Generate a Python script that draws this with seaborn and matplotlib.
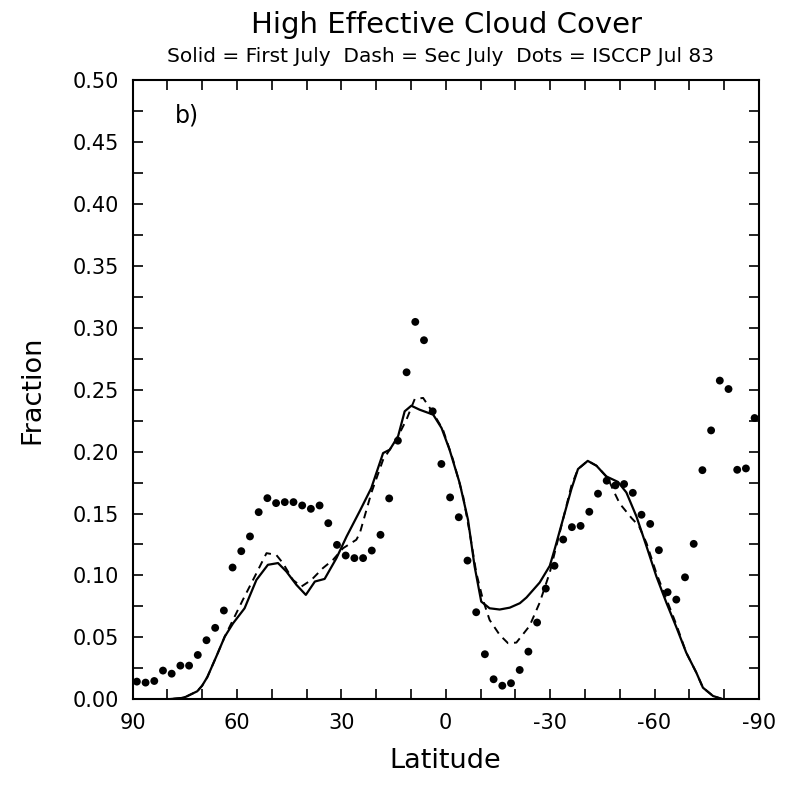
import numpy as np
import pandas as pd
import matplotlib
matplotlib.use('Agg')
import matplotlib.pyplot as plt
import seaborn as sns
from matplotlib.ticker import MultipleLocator, FormatStrFormatter

# ISCCP Jul 83 (dots), 2.5 degree bands
isccp_lat = [88.75, 86.25, 83.75, 81.25, 78.75, 76.25, 73.75, 71.25, 68.75, 66.25,
             63.75, 61.25, 58.75, 56.25, 53.75, 51.25, 48.75, 46.25, 43.75, 41.25,
             38.75, 36.25, 33.75, 31.25, 28.75, 26.25, 23.75, 21.25, 18.75, 16.25,
             13.75, 11.25, 8.75, 6.25, 3.75, 1.25, -1.25, -3.75, -6.25, -8.75,
             -11.25, -13.75, -16.25, -18.75, -21.25, -23.75, -26.25, -28.75, -31.25, -33.75,
             -36.25, -38.75, -41.25, -43.75, -46.25, -48.75, -51.25, -53.75, -56.25, -58.75,
             -61.25, -63.75, -66.25, -68.75, -71.25, -73.75, -76.25, -78.75, -81.25, -83.75,
             -86.25, -88.75]
isccp_val = [0.0143, 0.0135, 0.0148, 0.0232, 0.0207, 0.0272, 0.0272, 0.0358, 0.0477, 0.0577,
             0.0717, 0.1064, 0.1196, 0.1315, 0.1511, 0.1624, 0.1584, 0.1592, 0.1592, 0.1565,
             0.1538, 0.1565, 0.1422, 0.1247, 0.1161, 0.1140, 0.1140, 0.1201, 0.1328, 0.1622,
             0.2088, 0.2640, 0.3047, 0.2899, 0.2325, 0.1900, 0.1630, 0.1470, 0.1120, 0.0703,
             0.0364, 0.0162, 0.0110, 0.0130, 0.0237, 0.0385, 0.0620, 0.0894, 0.1078, 0.1290,
             0.1390, 0.1400, 0.1514, 0.1660, 0.1765, 0.1727, 0.1738, 0.1667, 0.1490, 0.1416,
             0.1204, 0.0865, 0.0805, 0.0985, 0.1255, 0.1850, 0.2171, 0.2573, 0.2505, 0.1853,
             0.1864, 0.2271]

# First July (solid)
first_lat = [90, 80, 76, 74.7, 72.5, 71.4, 70, 68.5, 65.7, 63.5,
             61.1, 57.8, 54.4, 51.1, 48.2, 45.8, 42.9, 40.2, 37.6, 34.8,
             31.4, 28.5, 24.7, 21.4, 18.0, 16.1, 13.7, 11.8, 9.9, 7.5,
             3.6, 1.2, -1.1, -4.0, -6.4, -8.3, -10.2, -12.6, -15.5, -18.4,
             -21.3, -23.2, -27.0, -29.9, -31.3, -33.7, -36.1, -38.0, -40.8, -43.3,
             -46.1, -49.5, -51.9, -54.8, -57.7, -60.5, -63.4, -66.3, -69.1, -72.0,
             -73.9, -76.8, -79.7, -90]
first_val = [0.0, 0.0, 0.001, 0.002, 0.005, 0.0065, 0.011, 0.018, 0.036, 0.0506,
             0.0614, 0.0735, 0.0964, 0.1086, 0.110, 0.1032, 0.0924, 0.0843, 0.0951, 0.0972,
             0.114, 0.1314, 0.152, 0.1705, 0.1988, 0.2015, 0.2123, 0.2325, 0.237, 0.2338,
             0.2298, 0.219, 0.2015, 0.1746, 0.1449, 0.1072, 0.0789, 0.0735, 0.0725, 0.074,
             0.0776, 0.0822, 0.0943, 0.1078, 0.1212, 0.1455, 0.1697, 0.1859, 0.1925, 0.1886,
             0.180, 0.1755, 0.167, 0.1476, 0.1234, 0.0994, 0.078, 0.058, 0.0377, 0.0216,
             0.0094, 0.0027, 0.0, 0.0]

# Sec July (dash)
sec_lat = [90, 80, 76, 74.7, 72.5, 71.4, 70, 68.5, 65.7, 63.5,
           61.6, 58.3, 54.9, 51.5, 48.7, 46.8, 43.9, 41.5, 38.6, 35.3,
           32.4, 29.5, 25.7, 24.7, 21.4, 18.0, 14.2, 11.3, 8.9, 6.5,
           3.6, 0.8, -2.1, -5.0, -6.9, -8.8, -10.7, -12.6, -15.5, -17.9,
           -20.3, -24.1, -27.0, -29.9, -31.8, -34.2, -36.1, -38.0, -40.8, -43.3,
           -46.6, -48.1, -50.0, -53.4, -55.5, -57.7, -60.5, -63.4, -66.3, -69.1,
           -72.0, -73.9, -76.8, -79.7, -90]
sec_val = [0.0, 0.0, 0.001, 0.002, 0.005, 0.0065, 0.011, 0.018, 0.036, 0.0506,
           0.0614, 0.0803, 0.099, 0.118, 0.1166, 0.110, 0.0964, 0.091, 0.0964, 0.1059,
           0.1126, 0.122, 0.1288, 0.134, 0.1665, 0.1934, 0.2096, 0.2257, 0.2425, 0.2433,
           0.2311, 0.2177, 0.1934, 0.1638, 0.1341, 0.1018, 0.0803, 0.0641, 0.052, 0.0453,
           0.0458, 0.0593, 0.0781, 0.1024, 0.1239, 0.1509, 0.1724, 0.1859, 0.1925, 0.1886,
           0.1786, 0.169, 0.158, 0.1463, 0.140, 0.126, 0.102, 0.081, 0.060, 0.0377,
           0.0216, 0.0094, 0.0027, 0.0, 0.0]

x_ticks = [90, 60, 30, 0, -30, -60, -90]
x_labels = ['90', '60', '30', '0', '-30', '-60', '-90']

isccp_df = pd.DataFrame({'lat': isccp_lat, 'frac': isccp_val})
first_df = pd.DataFrame({'lat': first_lat, 'frac': first_val})
sec_df = pd.DataFrame({'lat': sec_lat, 'frac': sec_val})

sns.set_style('ticks')
plt.rcParams['font.family'] = ['DejaVu Sans']
plt.rcParams['text.color'] = 'black'
plt.rcParams['axes.labelcolor'] = 'black'

fig = plt.figure(figsize=(7.86, 7.91), dpi=100)
ax = fig.add_axes([0.1686, 0.1159, 0.797, 0.783])

sns.lineplot(data=first_df, x='lat', y='frac', color='black', linewidth=1.6,
             sort=False, ax=ax)
sns.lineplot(data=sec_df, x='lat', y='frac', color='black', linewidth=1.4,
             linestyle=(0, (4, 3)), sort=False, ax=ax)
sns.scatterplot(data=isccp_df, x='lat', y='frac', color='black', s=32,
                edgecolor='none', ax=ax)

ax.set_xlim(90, -90)
ax.set_ylim(0, 0.5)
ax.set_xticks(x_ticks)
ax.set_xticklabels(x_labels)
ax.xaxis.set_minor_locator(MultipleLocator(10))
ax.yaxis.set_major_locator(MultipleLocator(0.05))
ax.yaxis.set_minor_locator(MultipleLocator(0.025))
ax.yaxis.set_major_formatter(FormatStrFormatter('%.2f'))
ax.tick_params(which='both', direction='in', length=7, width=1.2, top=True, right=True,
               colors='black')
ax.tick_params(which='major', labelsize=15, pad=10)
for side in ax.spines.values():
    side.set_linewidth(1.5)
    side.set_color('black')

ax.set_xlabel('Latitude', fontsize=19.5, labelpad=11)
ax.set_ylabel('Fraction', fontsize=19.5, labelpad=19)
ax.text(77.8, 0.471, 'b)', fontsize=17, ha='left', va='center')

fig.text(0.568, 0.968, 'High Effective Cloud Cover', fontsize=21, ha='center', va='center')
fig.text(0.561, 0.928, 'Solid = First July  Dash = Sec July  Dots = ISCCP Jul 83',
         fontsize=14.5, ha='center', va='center')

fig.savefig('out.png', dpi=100)
